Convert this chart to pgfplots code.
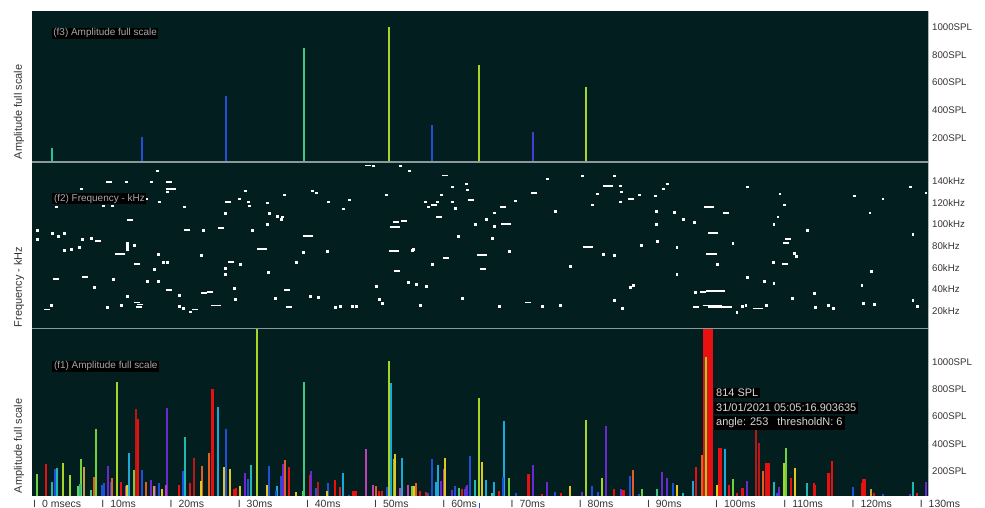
\documentclass[border=0pt]{standalone}
\usepackage{pgfplots}
\pgfplotsset{compat=1.18}
\usepackage{fontspec}
\setmainfont{Liberation Sans}
\definecolor{bgc}{HTML}{021E1E}
\definecolor{YG}{HTML}{A8D428}
\definecolor{GR}{HTML}{3CC880}
\definecolor{LG}{HTML}{70D040}
\definecolor{TE}{HTML}{20B8B0}
\definecolor{CY}{HTML}{1CA8D8}
\definecolor{BL}{HTML}{2050D8}
\definecolor{PU}{HTML}{6A2AD0}
\definecolor{MA}{HTML}{C040B8}
\definecolor{RD}{HTML}{E81010}
\definecolor{DR}{HTML}{B81818}
\definecolor{OR}{HTML}{E06020}
\definecolor{YE}{HTML}{E0C820}
\definecolor{OL}{HTML}{C8A040}
\definecolor{sepg}{HTML}{8A9A9A}
\definecolor{tickc}{HTML}{333333}
\definecolor{lblc}{HTML}{A8A8A8}
\definecolor{tipc}{HTML}{D8D8D8}
\pgfplotsset{
  panel/.style={
    scale only axis, anchor=south west, width=896bp,
    xmin=-0.147, xmax=131.23,
    axis background/.style={fill=bgc},
    axis line style={draw=none},
    major tick length=0pt, minor tick num=0,
    yticklabel pos=right,
    yticklabel style={anchor=west, inner sep=0pt, xshift=4bp, text=tickc, font=\fontsize{9.7}{12}\selectfont},
    clip=true,
  },
  bar/.style={ycomb, draw=#1, line width=2bp, forget plot},
}
\begin{document}
\begin{tikzpicture}
\useasboundingbox (0,0) rectangle (985bp,508bp);
% ---------- top panel (f3)
\begin{axis}[panel, at={(32bp,346bp)}, height=151bp, ymin=27, ymax=1115,
  xtick=\empty, ytick={200,400,600,800,1000},
  yticklabels={200SPL,400SPL,600SPL,800SPL,1000SPL}]
\addplot[ycomb, draw=TE!50!GR, line width=1.6bp] coordinates {(2.79,128)};
\addplot[ycomb, draw=GR, line width=1.6bp] coordinates {(39.74,848)};
\addplot[ycomb, draw=BL, line width=1.6bp] coordinates {(15.98,207) (28.3,502) (58.5,293)};
\addplot[ycomb, draw=BL!50!PU, line width=1.6bp] coordinates {(73.3,243)};
\addplot[ycomb, draw=YG, line width=1.6bp] coordinates {(52.2,1000) (65.4,726) (81.1,567)};
\end{axis}
% ---------- middle panel (f2)
\begin{axis}[panel, at={(32bp,180bp)}, height=166bp, ymin=4.2, ymax=157.7,
  xtick=\empty, ytick={20,40,60,80,100,120,140},
  yticklabels={20kHz,40kHz,60kHz,80kHz,100kHz,120kHz,140kHz}]
\addplot[only marks, mark=square*, mark size=0.8bp, mark options={draw=white, fill=white, line width=0.3bp}] coordinates {
(18.18,149.7) (13.63,139.5) (17.30,139.5) (7.04,133.0) (19.64,130.2) (16.57,123.8) (18.47,121.0) (3.37,116.3)
(10.26,117.2) (11.58,117.2) (22.14,116.3) (30.20,123.8) (31.52,121.0) (31.67,117.2) (31.08,131.1) (36.80,127.4)
(34.30,120.0) (40.90,131.1) (41.49,129.3) (43.25,121.0) (28.15,110.6) (34.60,110.6) (35.77,107.9) (36.50,107.0)
(36.36,105.1) (34.30,100.4) (0.59,94.9) (2.79,92.1) (3.67,89.3) (4.54,92.1) (24.92,94.9) (32.11,94.9)
(0.59,86.5) (7.18,86.5) (8.50,87.4) (13.78,82.8) (13.78,80.0) (13.78,77.2) (14.81,80.9) (6.74,79.1)
(5.57,77.2) (4.54,76.3) (18.33,72.5) (24.63,71.6) (39.58,74.4) (43.10,75.3) (19.06,65.1) (19.64,65.1)
(30.35,63.2) (38.56,65.1) (17.74,58.6) (28.15,59.5) (28.15,53.9) (34.45,55.8) (11.73,49.3) (16.71,47.4)
(18.33,47.4) (8.94,41.9) (21.40,34.4) (29.47,40.9) (13.78,33.5) (40.61,33.5) (41.78,32.6) (29.61,30.7)
(35.48,31.6) (2.64,25.1) (10.85,23.3) (12.90,25.1) (21.40,24.2) (21.99,22.3) (23.02,19.5)
(49.84,154.4) (53.80,154.4) (55.12,149.7) (61.43,134.9) (63.48,137.6) (63.62,132.1) (51.75,127.4) (59.81,127.4)
(46.33,122.8) (57.47,121.0) (59.23,121.0) (57.91,116.3) (61.43,121.0) (61.87,115.3) (45.45,114.4) (67.58,110.7)
(70.66,121.8) (66.41,105.1) (64.80,100.4) (67.58,98.6) (62.31,89.3) (67.29,87.4) (55.71,77.2) (55.57,76.3)
(69.78,75.3) (58.49,63.2) (54.98,46.5) (56.15,44.6) (57.61,42.8) (50.28,42.8) (50.72,30.7) (51.16,27.0)
(62.89,31.6) (44.27,23.3) (45.01,24.2) (46.77,24.2) (47.35,24.2) (56.73,25.1) (68.32,24.2) (74.62,24.2)
(77.26,25.1) (75.35,142.3) (76.53,112.5) (78.72,61.4) (80.48,145.1) (81.95,118.1) (82.68,128.3) (85.17,145.1)
(86.05,135.8) (86.20,130.2) (86.05,120.9) (88.84,127.4) (91.19,126.5) (91.33,112.5) (91.33,100.4) (83.56,72.5)
(85.17,71.6) (89.13,80.9) (91.48,84.6) (87.52,41.9) (87.96,43.7) (85.17,29.8) (86.35,22.3)
(92.94,137.6) (92.36,133.0) (104.7,134.9) (109.5,128.3) (120.4,126.5) (124.6,123.7) (128.6,134.9) (130.9,129.3)
(94.0,111.6) (95.3,105.1) (96.9,102.3) (110.1,118.1) (109.2,107.0) (108.6,100.4) (113.5,94.9) (122.7,110.7)
(129.0,91.1) (102.6,82.8) (94.4,79.1) (111.6,73.5) (111.9,70.7) (100.3,63.2) (108.5,65.1) (94.4,53.9)
(122.9,56.7) (104.7,51.2) (107.2,47.4) (108.6,45.6) (121.5,43.7) (97.1,37.2) (114.5,36.3) (111.3,31.6)
(129.0,29.8) (129.6,24.2) (104.0,24.2) (104.5,25.1) (107.5,25.1) (103.2,18.6) (114.7,23.3) (116.6,25.1)
(117.3,22.3) (121.7,27.0) (123.3,26.0)
};
\addplot[only marks, mark=-, mark size=3bp, mark options={white, line width=1.7bp}] coordinates {
(11.14,139.5) (19.94,139.5) (28.59,121.0) (14.22,104.2) (22.58,94.9) (27.56,96.7) (9.53,84.6) (15.25,63.2)
(29.03,65.1) (3.37,49.3) (7.62,51.2) (19.94,39.1) (25.07,36.3) (25.95,37.2) (37.24,39.1) (15.25,27.9)
(15.69,26.0) (15.54,23.3) (2.05,21.4) (23.75,21.4) (37.53,23.3)
(49.11,154.4) (60.40,145.1) (58.79,118.2) (64.21,122.8) (68.90,116.3) (59.52,107.0) (53.22,102.3) (54.39,103.2)
(60.55,68.8) (65.97,58.6) (53.36,56.7) (72.57,27.9) (73.45,129.3) (87.67,123.7)
(101.6,110.7) (110.7,86.5) (110.4,82.8) (110.2,63.2) (98.2,37.2) (97.2,23.3)
};
\addplot[only marks, mark=-, mark size=5.3bp, mark options={white, line width=1.7bp}] coordinates {
(20.23,133.0) (40.32,89.3) (33.57,77.2) (12.75,72.5) (26.83,25.1) (69.34,100.4) (53.07,97.7) (52.92,75.3)
(65.82,71.6) (84.30,135.8) (81.36,79.1) (99.1,116.3) (99.7,92.1) (99.5,72.5) (106.3,22.3)
};
\addplot[only marks, mark=-, mark size=9.5bp, mark options={white, line width=1.7bp}] coordinates {
(100.0,38.1) (99.6,25.1)
};
\addplot[only marks, mark=-, mark size=12bp, mark options={white, line width=1.7bp}] coordinates {
(100.7,23.3)
};
\end{axis}
% ---------- bottom panel (f1)
\begin{axis}[panel, at={(32bp,12bp)}, height=167bp, ymin=16.5, ymax=1242,
  ytick={200,400,600,800,1000},
  yticklabels={200SPL,400SPL,600SPL,800SPL,1000SPL},
  xtick={0,10,20,30,40,50,60,70,80,90,100,110,120,130},
  xticklabels={I\hspace{6bp}0 msecs,I\hspace{6bp}10ms,I\hspace{6bp}20ms,I\hspace{6bp}30ms,I\hspace{6bp}40ms,I\hspace{6bp}50ms,I\hspace{6bp}60ms,I\hspace{6bp}70ms,I\hspace{6bp}80ms,I\hspace{6bp}90ms,I\hspace{6bp}100ms,I\hspace{6bp}110ms,I\hspace{6bp}120ms,I\hspace{6bp}130ms},
  xticklabel style={anchor=west, inner sep=0pt, yshift=-7.5bp, text=tickc, font=\fontsize{10.5}{12}\selectfont}]
\addplot[bar=RD] coordinates {(1.91,250) (12.86,118) (15.35,580) (21.41,100) (23.06,110) (29.47,70) (29.72,75)
 (37.49,232) (40.62,170) (44.28,137) (45.02,80) (50.73,50) (51.13,50) (56.75,55) (57.58,45) (62.95,65)
 (68.37,50) (74.68,30) (77.38,40) (85.24,65) (97.22,230) (102.05,100) (103.18,40) (103.92,75) (104.15,75)
 (111.10,145) (114.52,110) (114.71,95) (117.16,277) (121.51,115) (123.36,35) (129.67,35)};
\addplot[bar=RD, line width=3.2bp] coordinates {(26.29,800) (72.68,176) (86.56,60) (100.73,372) (116.67,186) (121.85,140)};
\addplot[bar=RD, line width=5bp] coordinates {(47.07,50) (107.70,260)};
\addplot[bar=RD, line width=3.5bp] coordinates {(98.43,1300) (98.92,1300) (99.40,1300)};
\addplot[bar=DR] coordinates {(15.15,653) (23.65,293) (41.79,120) (105.97,499) (106.45,404)};
\addplot[bar=LG] coordinates {(0.54,176) (6.64,90) (7.04,291) (9.19,506) (14.77,210) (39.55,50) (52.98,291)
 (55.57,90) (69.80,150) (89.30,70) (102.64,140) (110.41,372)};
\addplot[bar=GR] coordinates {(8.55,60) (39.74,854) (62.42,75) (67.35,35) (91.45,70)};
\addplot[bar=TE] coordinates {(2.74,120) (3.47,220) (6.89,105) (22.33,448) (32.01,242) (64.85,135) (95.35,35)
 (108.65,120) (113.45,115) (128.99,120)};
\addplot[bar=CY] coordinates {(14.03,330) (27.08,668) (35.78,90) (45.41,186) (52.49,844) (54.15,293) (59.14,120)
 (59.34,247) (66.47,135) (67.64,120) (68.99,570) (96.82,125) (101.47,360)};
\addplot[bar=BL] coordinates {(3.23,213) (10.12,95) (10.45,110) (11.44,120) (15.94,205) (18.43,115) (22.04,200)
 (28.26,506) (31.57,140) (34.56,235) (35.63,50) (36.32,160) (41.50,75) (43.30,115) (46.34,25) (51.86,80)
 (57.96,40) (58.55,291) (61.83,90) (63.34,70) (64.08,308) (68.87,155) (70.78,35) (76.54,45) (81.97,90)
 (82.80,45) (87.54,160) (88.81,30) (93.89,115) (109.14,35) (120.28,80) (124.64,30)};
\addplot[bar=PU] coordinates {(10.95,240) (17.26,135) (17.96,90) (19.69,660) (31.09,186) (36.61,252) (40.76,200)
 (59.87,130) (61.44,60) (63.54,80) (63.68,100) (73.27,242) (75.37,120) (80.50,45) (84.02,531) (86.17,70)
 (92.19,193) (92.92,150) (104.65,125) (109.43,80) (128.55,30) (130.94,120)};
\addplot[bar=MA] coordinates {(13.59,90) (19.46,95) (48.83,360) (49.81,100) (53.86,75) (54.99,100) (60.27,215)};
\addplot[bar=OR] coordinates {(8.94,154) (11.63,147) (16.61,120) (24.82,237) (25.76,333) (37.00,279) (50.34,90)
 (56.16,110) (87.93,210) (98.05,320) (107.08,200)};
\addplot[bar=YE] coordinates {(13.78,100) (18.92,70) (24.63,128) (28.05,228) (28.84,218) (30.31,90) (34.27,100)
 (38.56,45) (43.07,55) (53.12,328) (55.91,90) (60.46,293) (65.88,267) (78.74,90) (94.39,100) (100.25,100)
 (111.69,225)};
\addplot[bar=OL] coordinates {(7.43,228) (17.70,90) (122.83,65)};
\addplot[bar=YG] coordinates {(4.44,260) (5.43,171) (12.27,854) (32.80,1300) (52.16,1008) (65.35,734)
 (81.09,572) (83.48,150) (110.12,255)};
\addplot[bar=YG!70!LG, line width=1.3bp] coordinates {(98.68,1037)};
\end{axis}
% ---------- frame lines
\draw[sepg, line width=1.6bp] (32bp,346bp) -- (928bp,346bp);
\draw[sepg, line width=1.6bp] (32bp,179.5bp) -- (928bp,179.5bp);
\draw[sepg!70, line width=0.8bp] (928bp,12bp) -- (928bp,497bp);
\draw[BL, line width=1.2bp] (479.3bp,0bp) -- (479.3bp,5bp);
% ---------- panel labels
\node[anchor=north west, fill=black, text=lblc, inner xsep=1.5bp, inner ysep=1bp, font=\fontsize{10}{11}\selectfont] at (51.7bp,480.6bp) {(f3) Amplitude full scale};
\node[anchor=north west, fill=black, text=lblc, inner xsep=1.5bp, inner ysep=1bp, font=\fontsize{10}{11}\selectfont] at (52.3bp,315.3bp) {(f2) Frequency - kHz};
\node[anchor=north west, fill=black, text=lblc, inner xsep=1.5bp, inner ysep=1bp, font=\fontsize{10}{11}\selectfont] at (52.3bp,147.6bp) {(f1) Amplitude full scale};
% ---------- tooltip
\node[anchor=west, fill=black, text=tipc, inner xsep=2bp, inner ysep=1.5bp, font=\fontsize{11}{12}\selectfont] at (714bp,115bp) {814 SPL};
\node[anchor=west, fill=black, text=tipc, inner xsep=2bp, inner ysep=1.5bp, font=\fontsize{11}{12}\selectfont] at (714bp,100bp) {31/01/2021 05:05:16.903635};
\node[anchor=west, fill=black, text=tipc, inner xsep=2bp, inner ysep=1.5bp, font=\fontsize{11}{12}\selectfont] at (714bp,85bp) {angle: 253\hspace{9bp}thresholdN: 6};
% ---------- axis titles
\node[rotate=90, text=tickc, font=\fontsize{11}{13}\selectfont] at (19bp,396bp) {Amplitude full scale};
\node[rotate=90, text=tickc, font=\fontsize{11}{13}\selectfont] at (19bp,221bp) {Frequency - kHz};
\node[rotate=90, text=tickc, font=\fontsize{11}{13}\selectfont] at (19bp,62bp) {Amplitude full scale};
\end{tikzpicture}
\end{document}
